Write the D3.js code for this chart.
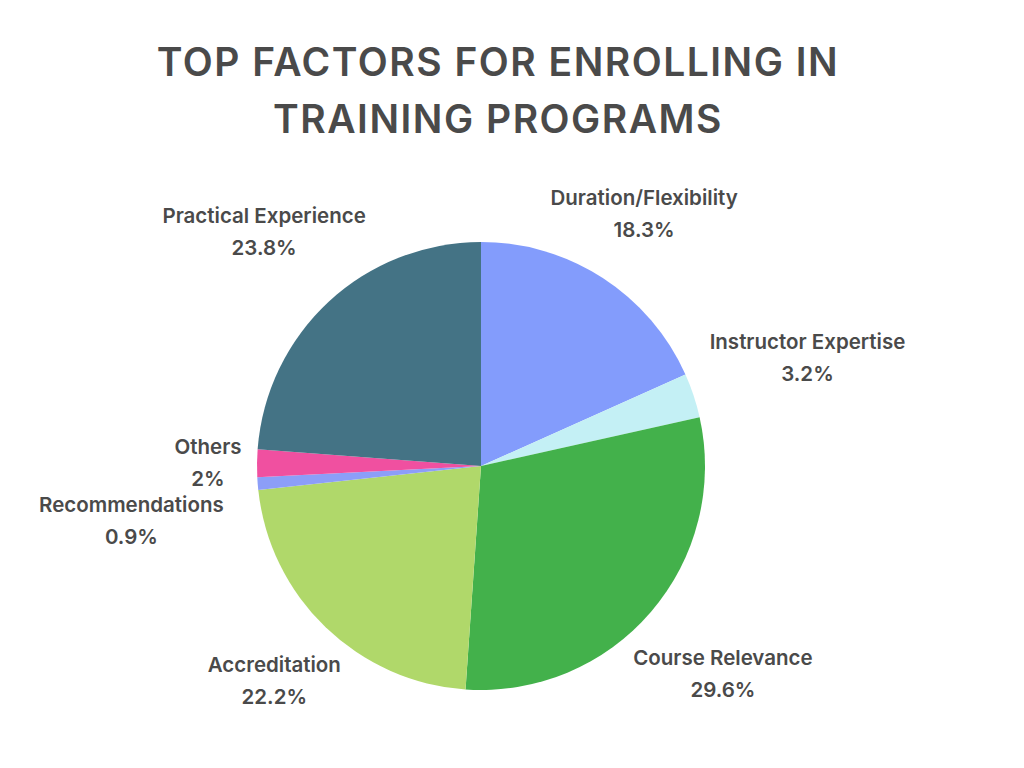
<!DOCTYPE html>
<html><head><meta charset="utf-8">
<script src="https://cdn.jsdelivr.net/npm/d3@7"></script>
<style>body{margin:0;background:#fff}</style>
</head><body>
<svg id="c" width="1024" height="768"></svg>
<script>
const categories = ["Duration/Flexibility","Instructor Expertise","Course Relevance","Accreditation","Recommendations","Others","Practical Experience"];
const values = [18.3,3.2,29.6,22.2,0.9,2,23.8];
const valueLabels = ["18.3%","3.2%","29.6%","22.2%","0.9%","2%","23.8%"];
const colors = ["#839CFC","#C4F0F5","#43B14B","#B0D86A","#8C9EF8","#F050A0","#447385"];
const labelRadius = [300,344,319,298,354,273,319];
const labelAngleShift = [0,0,0,0,-4.5,0,0];

const svg = d3.select("#c");
const cx = 481, cy = 466, r = 224;
const font = "Inter, Lato, sans-serif";
svg.append("text").attr("x",498).attr("y",76).attr("text-anchor","middle")
  .attr("font-family",font).attr("font-weight",600).attr("font-size",39)
  .attr("fill","#4a4a4a").attr("letter-spacing",1.5).text("TOP FACTORS FOR ENROLLING IN");
svg.append("text").attr("x",498).attr("y",133).attr("text-anchor","middle")
  .attr("font-family",font).attr("font-weight",600).attr("font-size",39)
  .attr("fill","#4a4a4a").attr("letter-spacing",1.5).text("TRAINING PROGRAMS");

const pie = d3.pie().sort(null).value(d=>d)(values);
const arc = d3.arc().innerRadius(0).outerRadius(r);
const g = svg.append("g").attr("transform",`translate(${cx},${cy})`);
g.selectAll("path").data(pie).join("path").attr("d",arc).attr("fill",(d,i)=>colors[i]);
pie.forEach((d,i)=>{
  const a=(d.startAngle+d.endAngle)/2 + labelAngleShift[i]*Math.PI/180, lr=labelRadius[i];
  const x=Math.sin(a)*lr, y=-Math.cos(a)*lr;
  const t=g.append("text").attr("text-anchor","middle").attr("font-family",font)
    .attr("font-weight",600).attr("font-size",20.5).attr("fill","#4a4a4a");
  t.append("tspan").attr("x",x).attr("y",y-9).text(categories[i]);
  t.append("tspan").attr("x",x).attr("y",y+23).text(valueLabels[i]);
});
</script>
</body></html>
